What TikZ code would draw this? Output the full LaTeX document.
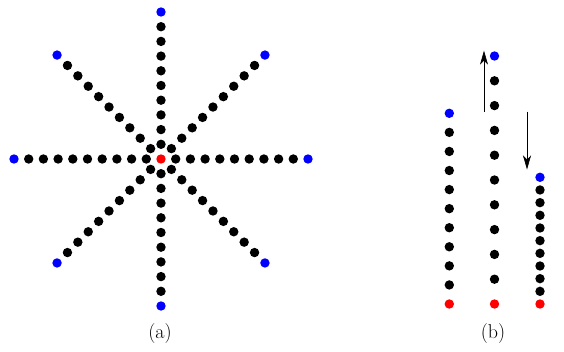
\documentclass[tikz,border=0pt]{standalone}
\usetikzlibrary{arrows.meta,calc}
\begin{document}
\begin{tikzpicture}[x=1pt,y=-1pt,
  dot/.style={circle,inner sep=0pt,minimum size=9.4pt,fill=black},
  enddot/.style={dot,fill=blue},
  origdot/.style={dot,fill=red},
  movearrow/.style={line width=0.6pt,-{Stealth[length=14pt,width=8pt,inset=4pt]}},
  lbl/.style={font=\fontsize{20}{24}\selectfont}]
\useasboundingbox (0,0) rectangle (564,351);
% (a) star
\coordinate (c) at (161,159);
\foreach \a in {0,45,...,315}{
  \foreach \i in {1,...,9}{
    \node[dot] (s\a-\i) at ($(c)+(\a:14.7*\i)$) {};
  }
  \node[enddot] (s\a-10) at ($(c)+(\a:147)$) {};
}
\node[origdot] (s0) at (c) {};
\node[lbl] (la) at (160,334) {(a)};
% (b) columns
\foreach \k/\x/\top in {1/449.3/113.3, 2/494.5/56, 3/540/177.3}{
  \pgfmathsetmacro{\st}{(304-\top)/10}
  \node[origdot] (b\k-0) at (\x,304) {};
  \foreach \i in {1,...,9}{
    \node[dot] (b\k-\i) at (\x,{304-\st*\i}) {};
  }
  \node[enddot] (b\k-10) at (\x,\top) {};
}
\coordinate (u1) at (484,111.7);
\coordinate (u2) at (484,50.7);
\coordinate (d1) at (527,111.7);
\coordinate (d2) at (527,169.5);
\draw[movearrow] (u1) -- (u2);
\draw[movearrow] (d1) -- (d2);
\node[lbl] (lb) at (493,334) {(b)};
\end{tikzpicture}
\end{document}
